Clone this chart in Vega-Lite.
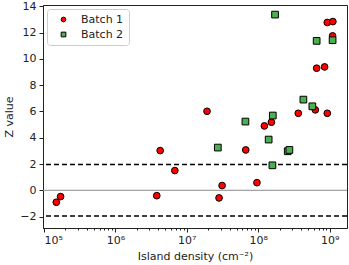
{
  "$schema": "https://vega.github.io/schema/vega-lite/v6.json",
  "width": 304,
  "height": 223,
  "autosize": {"type": "none"},
  "padding": {"left": 43, "top": 5, "right": 2, "bottom": 37},
  "config": {
    "font": "DejaVu Sans",
    "view": {"stroke": "#222222", "strokeWidth": 1},
    "axis": {"labelFont": "DejaVu Sans", "titleFont": "DejaVu Sans", "labelFontSize": 11, "titleFontSize": 11, "titleFontWeight": "normal", "labelColor": "#222222", "titleColor": "#222222", "tickColor": "#222222", "domainColor": "#222222", "grid": false, "labelOverlap": false}
  },
  "datasets": {
    "points": [
      {"density": 1.49e5, "z": -0.91, "batch": "Batch 1"},
      {"density": 1.71e5, "z": -0.48, "batch": "Batch 1"},
      {"density": 3.8e6, "z": -0.41, "batch": "Batch 1"},
      {"density": 4.24e6, "z": 3.02, "batch": "Batch 1"},
      {"density": 6.8e6, "z": 1.5, "batch": "Batch 1"},
      {"density": 1.92e7, "z": 6.01, "batch": "Batch 1"},
      {"density": 2.83e7, "z": -0.58, "batch": "Batch 1"},
      {"density": 3.12e7, "z": 0.36, "batch": "Batch 1"},
      {"density": 6.69e7, "z": 3.07, "batch": "Batch 1"},
      {"density": 9.6e7, "z": 0.58, "batch": "Batch 1"},
      {"density": 1.22e8, "z": 4.9, "batch": "Batch 1"},
      {"density": 1.53e8, "z": 5.18, "batch": "Batch 1"},
      {"density": 3.64e8, "z": 5.86, "batch": "Batch 1"},
      {"density": 6.3e8, "z": 6.12, "batch": "Batch 1"},
      {"density": 6.58e8, "z": 9.29, "batch": "Batch 1"},
      {"density": 8.5e8, "z": 9.39, "batch": "Batch 1"},
      {"density": 9.27e8, "z": 5.86, "batch": "Batch 1"},
      {"density": 9.27e8, "z": 12.77, "batch": "Batch 1"},
      {"density": 1.11e9, "z": 12.84, "batch": "Batch 1"},
      {"density": 1.1e9, "z": 11.75, "batch": "Batch 1"},
      {"density": 2.72e7, "z": 3.25, "batch": "Batch 2"},
      {"density": 6.62e7, "z": 5.23, "batch": "Batch 2"},
      {"density": 1.4e8, "z": 3.86, "batch": "Batch 2"},
      {"density": 1.6e8, "z": 5.69, "batch": "Batch 2"},
      {"density": 1.58e8, "z": 1.9, "batch": "Batch 2"},
      {"density": 1.72e8, "z": 13.37, "batch": "Batch 2"},
      {"density": 2.59e8, "z": 2.97, "batch": "Batch 2"},
      {"density": 2.73e8, "z": 3.07, "batch": "Batch 2"},
      {"density": 4.29e8, "z": 6.9, "batch": "Batch 2"},
      {"density": 5.73e8, "z": 6.39, "batch": "Batch 2"},
      {"density": 6.58e8, "z": 11.37, "batch": "Batch 2"},
      {"density": 1.1e9, "z": 11.42, "batch": "Batch 2"}
    ],
    "dashed": [{"z": 1.96}, {"z": -1.96}],
    "zero": [{"z": 0}]
  },
  "resolve": {"axis": {"x": "independent"}},
  "encoding": {
    "y": {"field": "z", "type": "quantitative", "scale": {"domain": [-2.87, 14.1], "nice": false, "zero": false},
          "axis": {"values": [-2, 0, 2, 4, 6, 8, 10, 12, 14], "labelOverlap": false, "labelExpr": "replace(datum.label, '-', '−')", "tickSize": 4, "labelPadding": 3, "title": "Z value", "titlePadding": 5}}
  },
  "layer": [
    {
      "data": {"name": "zero"},
      "mark": {"type": "rule", "color": "#8c8c8c", "strokeWidth": 1},
      "encoding": {}
    },
    {
      "data": {"name": "dashed"},
      "mark": {"type": "rule", "color": "#000000", "strokeWidth": 1.5, "strokeDash": [5, 3]},
      "encoding": {}
    },
    {
      "data": {"name": "points"},
      "mark": {"type": "point", "opacity": 0},
      "encoding": {
        "x": {"field": "density", "type": "quantitative",
              "scale": {"type": "log", "domain": [97000, 1750000000], "nice": false},
              "axis": {"orient": "bottom", "values": [200000, 300000, 400000, 500000, 600000, 700000, 800000, 900000, 2000000, 3000000, 4000000, 5000000, 6000000, 7000000, 8000000, 9000000, 20000000, 30000000, 40000000, 50000000, 60000000, 70000000, 80000000, 90000000, 200000000, 300000000, 400000000, 500000000, 600000000, 700000000, 800000000, 900000000], "labels": false, "domain": false, "tickSize": 2, "title": null}}
      }
    },
    {
      "data": {"name": "points"},
      "mark": {"type": "point", "filled": true, "opacity": 1, "stroke": "#000000", "strokeWidth": 1},
      "encoding": {
        "x": {"field": "density", "type": "quantitative",
              "scale": {"type": "log", "domain": [97000, 1750000000], "nice": false},
              "axis": {"orient": "bottom", "values": [100000, 1000000, 10000000, 100000000, 1000000000], "labelExpr": "'10' + ['⁰','¹','²','³','⁴','⁵','⁶','⁷','⁸','⁹'][round(log(datum.value)/LN10)]", "tickSize": 4, "labelPadding": 2, "title": "Island density (cm⁻²)", "titlePadding": 5}},
        "shape": {"field": "batch", "type": "nominal", "scale": {"range": ["circle", "square"]}},
        "color": {"field": "batch", "type": "nominal", "scale": {"range": ["#ff0000", "#4caf50"]},
                  "legend": {"title": null, "orient": "none", "legendX": 4, "legendY": 4, "strokeColor": "#cccccc", "cornerRadius": 3, "padding": 5, "fillColor": "#ffffff", "symbolSize": 22, "symbolStrokeColor": "#000000", "symbolStrokeWidth": 1, "labelFontSize": 11, "labelFont": "DejaVu Sans", "labelColor": "#222222", "labelOffset": 12, "rowPadding": 3, "symbolOffset": 6}},
        "size": {"value": 45}
      }
    }
  ]
}
